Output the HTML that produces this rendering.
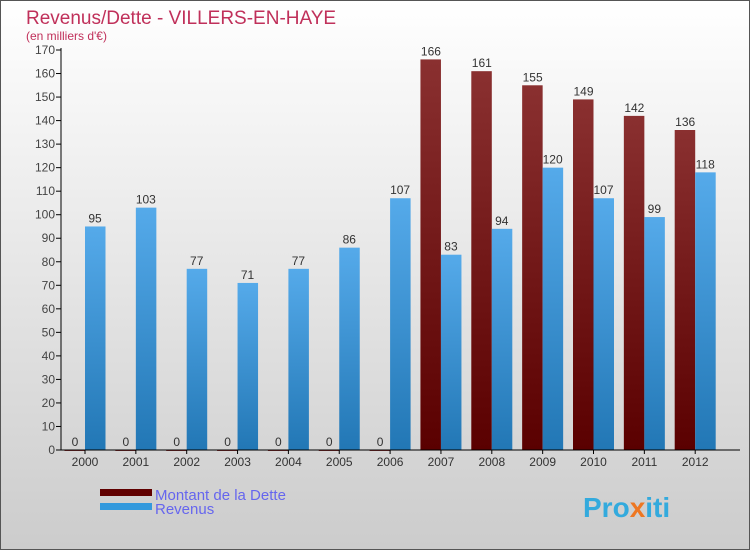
<!DOCTYPE html>
<html><head><meta charset="utf-8"><style>
body{margin:0;width:750px;height:550px;overflow:hidden;font-family:"Liberation Sans",sans-serif}
</style></head><body>
<svg width="750" height="550" xmlns="http://www.w3.org/2000/svg">
<defs>
<linearGradient id="bg" x1="0" y1="0" x2="0" y2="1"><stop offset="0" stop-color="#ffffff"/><stop offset="1" stop-color="#cccccc"/></linearGradient>
<linearGradient id="gd" x1="0" y1="0" x2="0" y2="1"><stop offset="0" stop-color="#8a3030"/><stop offset="1" stop-color="#5a0000"/></linearGradient>
<linearGradient id="gr" x1="0" y1="0" x2="0" y2="1"><stop offset="0" stop-color="#55aaea"/><stop offset="1" stop-color="#2277b5"/></linearGradient>
</defs>
<rect x="0.5" y="0.5" width="749" height="549" fill="url(#bg)" stroke="#555"/>
<text x="26" y="24" font-size="19" fill="#c0305a">Revenus/Dette - VILLERS-EN-HAYE</text>
<text x="26" y="40" font-size="12" fill="#c0305a">(en milliers d'€)</text>
<g id="plot"></g>
<rect x="100" y="489" width="52" height="7" fill="#600000"/>
<text x="155" y="500" font-size="15" fill="#6666ee">Montant de la Dette</text>
<rect x="100" y="503" width="52" height="7" fill="#3399dd"/>
<text x="155" y="514" font-size="15" fill="#6666ee">Revenus</text>
<text x="583" y="517" font-size="28" font-weight="bold" fill="#33aadd">Pro<tspan fill="#ee7722">x</tspan>iti</text>
</svg>
<script>
const years=["2000","2001","2002","2003","2004","2005","2006","2007","2008","2009","2010","2011","2012"];
const dette=[0,0,0,0,0,0,0,166,161,155,149,142,136];
const revenus=[95,103,77,71,77,86,107,83,94,120,107,99,118];
const yTicks=[0,10,20,30,40,50,60,70,80,90,100,110,120,130,140,150,160,170];
const NS="http://www.w3.org/2000/svg";
const g=document.getElementById('plot');
const y=v=>450-v*400/170;
const xc=i=>85+i*50.85;
function mk(t,a,txt){const e=document.createElementNS(NS,t);for(const k in a)e.setAttribute(k,a[k]);if(txt!=null)e.textContent=txt;g.appendChild(e);return e;}
yTicks.forEach(v=>{
const l=mk('line',{x1:56,x2:61,y1:y(v),y2:y(v),stroke:'#000'});


const t=mk('text',{x:55,y:y(v)+4,'font-size':12,fill:'#444','text-anchor':'end'},v);


});
years.forEach((yr,i)=>{
const c=xc(i);
const b1=mk('rect',{x:c-20.5,y:y(dette[i]),width:20.5,height:Math.max(450-y(dette[i]),1),fill:dette[i]?'url(#gd)':'#8a3030'});


const b2=mk('rect',{x:c,y:y(revenus[i]),width:20.5,height:450-y(revenus[i]),fill:'url(#gr)'});


const t1=mk('text',{x:c-10,y:y(dette[i])-4,'font-size':12,fill:'#333','text-anchor':'middle'},dette[i]);


const t2=mk('text',{x:c+10,y:y(revenus[i])-4,'font-size':12,fill:'#333','text-anchor':'middle'},revenus[i]);


const tl=mk('text',{x:c,y:466,'font-size':12,fill:'#333','text-anchor':'middle'},yr);


const tk=mk('line',{x1:c,x2:c,y1:450,y2:454,stroke:'#000'});


});
const ax=mk('line',{x1:61,x2:61,y1:48,y2:450,stroke:'#000'});


const bx=mk('line',{x1:56,x2:740,y1:450,y2:450,stroke:'#000'});


</script>
</body></html>
